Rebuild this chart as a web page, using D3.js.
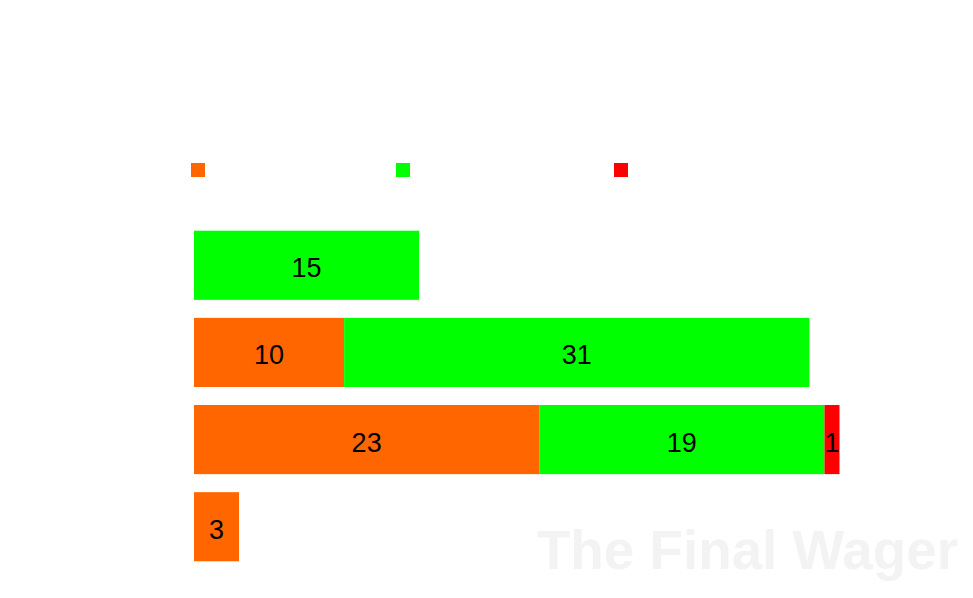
<!DOCTYPE html>
<html><head><meta charset="utf-8">
<script src="https://cdn.jsdelivr.net/npm/d3@7/dist/d3.min.js"></script>
<style>body{margin:0;background:#fff}svg{display:block}</style>
</head><body>
<script>
const categories = ["A", "B", "C", "D"];
const seriesNames = ["Series 1", "Series 2", "Series 3"];
const seriesColors = ["#ff6600", "#00ff00", "#ff0000"];
const series1 = [0, 10, 23, 3];
const series2 = [15, 31, 19, 0];
const series3 = [0, 0, 1, 0];

const W = 973, H = 598;
const svg = d3.select("body").append("svg").attr("width", W).attr("height", H);

const rows = categories.map((c, i) => ({cat: c, s0: series1[i], s1: series2[i], s2: series3[i]}));
const stack = d3.stack().keys(["s0", "s1", "s2"])(rows);

const x = d3.scaleLinear().domain([0, 43]).range([194, 839.5]);
const y = d3.scaleBand().domain(categories).range([222, 570]).paddingInner(0.207).paddingOuter(0.1);

// watermark
svg.append("text").attr("x", 958).attr("y", 569).attr("text-anchor", "end")
  .attr("font-family", "Liberation Sans, Arial, sans-serif").attr("font-weight", "bold")
  .attr("font-size", 54.8).attr("fill", "#f3f3f3").text("The Final Wager");

const g = svg.append("g");
stack.forEach((layer, k) => {
  layer.forEach((d, i) => {
    if (d[1] - d[0] <= 0) return;
    g.append("rect")
      .attr("x", x(d[0])).attr("y", y(categories[i]))
      .attr("width", x(d[1]) - x(d[0])).attr("height", y.bandwidth())
      .attr("fill", seriesColors[k]);
  });
});
stack.forEach((layer, k) => {
  layer.forEach((d, i) => {
    const v = d[1] - d[0];
    if (v <= 0) return;
    g.append("text")
      .attr("x", (x(d[0]) + x(d[1])) / 2)
      .attr("y", y(categories[i]) + y.bandwidth() / 2 + 12)
      .attr("text-anchor", "middle")
      .attr("font-family", "Liberation Sans, Arial, sans-serif")
      .attr("font-size", 27).attr("fill", "#000").text(v);
  });
});

// legend
const legendX = [191, 396, 614];
seriesNames.forEach((n, k) => {
  svg.append("rect").attr("x", legendX[k]).attr("y", 163).attr("width", 14).attr("height", 14)
    .attr("fill", seriesColors[k]);
});
</script>
</body></html>
